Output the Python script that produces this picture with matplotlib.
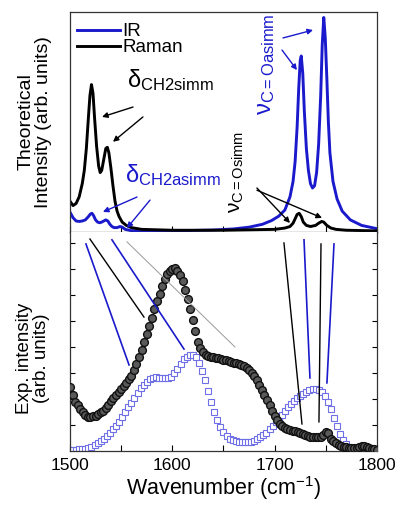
import numpy as np
import matplotlib
matplotlib.use('Agg')
import matplotlib.pyplot as plt

plt.rcParams['font.family'] = ['Liberation Sans', 'DejaVu Sans']
plt.rcParams['mathtext.fontset'] = 'custom'
plt.rcParams['mathtext.rm'] = 'Liberation Sans'
plt.rcParams['mathtext.it'] = 'Liberation Sans:italic'
plt.rcParams['mathtext.bf'] = 'Liberation Sans:bold'

# ---------------- data ----------------
# theoretical spectra (top panel)
raman_x = [1500, 1503, 1506, 1509, 1512, 1514, 1516, 1518, 1519.5, 1521, 1522.5, 1524,
           1526, 1528, 1529.5, 1531, 1533, 1535, 1536.5, 1538, 1540, 1542, 1544, 1546, 1548,
           1551, 1555, 1560, 1570, 1600, 1650, 1700, 1710, 1715, 1718, 1720, 1722, 1724, 1726,
           1728, 1731, 1735, 1740, 1743, 1746, 1748, 1751, 1755, 1760, 1770, 1800]
raman_y = [0.14, 0.12, 0.13, 0.16, 0.22, 0.28, 0.38, 0.52, 0.62, 0.67, 0.63, 0.52,
           0.39, 0.30, 0.27, 0.28, 0.33, 0.38, 0.385, 0.36, 0.29, 0.21, 0.14, 0.095, 0.07,
           0.045, 0.03, 0.02, 0.012, 0.008, 0.008, 0.012, 0.018, 0.025, 0.04, 0.06, 0.08, 0.085, 0.07,
           0.045, 0.03, 0.025, 0.03, 0.04, 0.048, 0.045, 0.03, 0.018, 0.012, 0.008, 0.005]

ir_x = [1500, 1503, 1506, 1509, 1512, 1515, 1518, 1520, 1521.5, 1523, 1525, 1527, 1529, 1531,
        1533, 1535, 1537, 1539, 1541, 1543, 1546, 1549, 1551, 1554, 1560, 1600, 1640, 1660,
        1675, 1688, 1697, 1704, 1710, 1715, 1718, 1720, 1722, 1723.5, 1725, 1726, 1727.5, 1729,
        1731, 1733, 1735, 1737, 1739, 1741, 1743, 1745, 1746.5, 1748, 1749.5, 1751, 1752.5,
        1754, 1757, 1761, 1766, 1774, 1785, 1800]
ir_y = [0.09, 0.065, 0.05, 0.048, 0.05, 0.055, 0.07, 0.082, 0.085, 0.075, 0.055, 0.045, 0.042, 0.045,
        0.05, 0.055, 0.05, 0.035, 0.025, 0.02, 0.02, 0.025, 0.022, 0.012, 0.006, 0.005, 0.009, 0.014,
        0.022, 0.035, 0.052, 0.072, 0.10, 0.16, 0.23, 0.32, 0.48, 0.65, 0.78, 0.80, 0.72, 0.55,
        0.38, 0.28, 0.22, 0.20, 0.21, 0.27, 0.40, 0.62, 0.85, 0.975, 0.88, 0.70, 0.50,
        0.36, 0.23, 0.15, 0.095, 0.055, 0.03, 0.015]

# experimental spectra (bottom panel)
exp_raman_start, exp_raman_step = 1500, 2.5
exp_raman = [2.45, 2.15, 1.9, 1.75, 1.6, 1.5, 1.4, 1.32, 1.3, 1.33, 1.35, 1.42, 1.5, 1.55, 1.65,
             1.78, 1.92, 2.05, 2.15, 2.28, 2.38, 2.5, 2.62, 2.75, 2.9, 3.1, 3.35, 3.6, 3.9, 4.2,
             4.5, 4.8, 5.1, 5.45, 5.75, 6.05, 6.35, 6.6, 6.8, 6.92, 7.0, 7.02, 6.92, 6.75, 6.55,
             6.2, 5.85, 5.45, 5.05, 4.6, 4.2, 3.95, 3.8, 3.7, 3.65, 3.62, 3.6, 3.58, 3.58, 3.55,
             3.5, 3.48, 3.45, 3.42, 3.4, 3.38, 3.35, 3.3, 3.25, 3.18, 3.1, 3.0, 2.88, 2.72, 2.55,
             2.35, 2.15, 1.95, 1.75, 1.55, 1.35, 1.2, 1.05, 0.97, 0.9, 0.85, 0.8, 0.78, 0.75, 0.72,
             0.68, 0.65, 0.62, 0.58, 0.55, 0.53, 0.52, 0.52, 0.55, 0.62, 0.72, 0.68, 0.48, 0.38, 0.3,
             0.24, 0.2, 0.17, 0.15, 0.13, 0.12, 0.12, 0.13, 0.17, 0.21, 0.2, 0.15, 0.1, 0.08, 0.06,
             0.05]

exp_ir_start, exp_ir_step = 1500, 3
exp_ir = [0.05, 0.05, 0.05, 0.06, 0.07, 0.08, 0.11, 0.17, 0.23, 0.3, 0.38, 0.48, 0.58, 0.7, 0.83,
          0.95, 1.12, 1.3, 1.5, 1.68, 1.85, 2.03, 2.22, 2.42, 2.55, 2.65, 2.75, 2.82, 2.85, 2.82,
          2.8, 2.79, 2.8, 2.86, 2.98, 3.15, 3.35, 3.52, 3.63, 3.7, 3.7, 3.6, 3.4, 3.08, 2.72, 2.3,
          1.88, 1.5, 1.18, 0.92, 0.72, 0.58, 0.48, 0.42, 0.38, 0.35, 0.34, 0.33, 0.34, 0.36, 0.4,
          0.45, 0.52, 0.6, 0.7, 0.83, 0.96, 1.1, 1.25, 1.4, 1.55, 1.68, 1.8, 1.92, 2.03, 2.12, 2.2,
          2.27, 2.33, 2.38, 2.4, 2.36, 2.27, 2.12, 1.9, 1.6, 1.28, 0.95, 0.65, 0.42, 0.26, 0.16,
          0.11, 0.08, 0.07, 0.06, 0.05, 0.05, 0.05, 0.05, 0.05]

# guide lines in the bottom panel: (x0, y0, x1, y1, colour, width)
guides = [
    (1519.5, 8.15, 1572.3, 5.15, 'black', 1.0),
    (1515.6, 7.96, 1557.7, 3.31, '#1a1acc', 1.2),
    (1541.0, 8.12, 1611.4, 3.92, '#1a1acc', 1.2),
    (1555.7, 8.04, 1661.2, 4.00, '#999999', 0.7),
    (1709.1, 8.00, 1726.7, 1.04, 'black', 1.0),
    (1728.7, 8.12, 1734.5, 2.81, '#1a1acc', 1.2),
    (1745.3, 7.96, 1743.3, 1.12, 'black', 1.0),
    (1758.0, 7.96, 1751.1, 2.62, '#1a1acc', 1.2),
]

BLUE = '#1a1acc'

fig = plt.figure(figsize=(3.99, 5.08), dpi=100)
ax1 = fig.add_axes([0.1754, 0.5433, 0.7694, 0.4331])
ax2 = fig.add_axes([0.1754, 0.1122, 0.7694, 0.4311])

# ---- top panel ----
ax1.plot(ir_x, ir_y, color=BLUE, lw=2.1, label='IR')
ax1.plot(raman_x, raman_y, color='black', lw=2.1, label='Raman')
ax1.set_xlim(1500, 1800)
ax1.set_ylim(0, 1.0)
ax1.set_xticks([1500, 1550, 1600, 1650, 1700, 1750, 1800])
ax1.set_xticklabels([])
ax1.set_yticks([])
ax1.tick_params(axis='x', direction='in', length=4, width=0.8, top=False)
leg = ax1.legend(loc='upper left', frameon=False, fontsize=13.5, handlelength=2.3,
                 handletextpad=0.1, borderaxespad=0.0, borderpad=0.0, labelspacing=-0.05,
                 bbox_to_anchor=(0.023, 0.95))

arrow = dict(arrowstyle='-|>', lw=1.0, mutation_scale=8, shrinkA=0, shrinkB=0)
ax1.text(1555.7, 0.66, r'$\mathrm{\delta_{CH2simm}}$', fontsize=17, ha='left', va='baseline')
ax1.annotate('', xy=(1531.3, 0.523), xytext=(1561.6, 0.568), arrowprops=dict(arrow, color='black'))
ax1.annotate('', xy=(1542.0, 0.41), xytext=(1571.3, 0.523), arrowprops=dict(arrow, color='black'))

ax1.text(1553.7, 0.227, r'$\mathrm{\delta_{CH2asimm}}$', fontsize=17, ha='left', va='baseline',
         color=BLUE)
ax1.annotate('', xy=(1532.2, 0.091), xytext=(1565.5, 0.159), arrowprops=dict(arrow, color=BLUE))
ax1.annotate('', xy=(1555.7, 0.018), xytext=(1578.2, 0.145), arrowprops=dict(arrow, color=BLUE))

ax1.text(1680.8, 0.53, r'$\mathrm{\nu_{C=Oasimm}}$', fontsize=17, rotation=90, ha='left',
         va='bottom', color=BLUE)
ax1.annotate('', xy=(1737.5, 0.918), xytext=(1708.2, 0.882), arrowprops=dict(arrow, color=BLUE))
ax1.annotate('', xy=(1721.8, 0.736), xytext=(1707.2, 0.827), arrowprops=dict(arrow, color=BLUE))

ax1.text(1653.4, 0.086, r'$\mathrm{\nu_{C=Osimm}}$', fontsize=15, rotation=90, ha='left',
         va='bottom', color='black')
ax1.annotate('', xy=(1715.0, 0.041), xytext=(1682.7, 0.20), arrowprops=dict(arrow, color='black'))
ax1.annotate('', xy=(1746.3, 0.064), xytext=(1682.7, 0.19), arrowprops=dict(arrow, color='black'))

# ---- bottom panel ----
xr = exp_raman_start + exp_raman_step * np.arange(len(exp_raman))
xi = exp_ir_start + exp_ir_step * np.arange(len(exp_ir))
ax2.plot(xi, exp_ir, ls='none', marker='s', ms=4.7, mfc='white', mec='#6f6fe6', mew=0.8, zorder=2)
ax2.plot(xr, exp_raman, ls='none', marker='o', ms=5.6, mfc='#5a5a5a', mec='#111111', mew=1.0, zorder=3)
for x0, y0, x1, y1, c, w in guides:
    ax2.plot([x0, x1], [y0, y1], color=c, lw=w, zorder=4)

ax2.set_xlim(1500, 1800)
ax2.set_ylim(0, 8.42)
ax2.set_xticks([1500, 1600, 1700, 1800])
ax2.set_xticks([1550, 1650, 1750], minor=True)
ax2.set_yticks(range(1, 9))
ax2.set_yticklabels([])
ax2.tick_params(axis='x', which='both', direction='in', length=4, width=0.8, labelsize=12.5, pad=5)
ax2.tick_params(axis='y', direction='in', length=3.5, width=0.8, left=True, right=True)
ax2.set_xlabel('Wavenumber (cm$^{\\mathregular{-1}}$)', fontsize=15.5, labelpad=1)

for a in (ax1, ax2):
    for s in a.spines.values():
        s.set_color('#333333')
        s.set_linewidth(0.9)
ax2.spines['top'].set_visible(False)

fig.text(0.088, 0.7598, 'Theoretical\nIntensity (arb. units)', rotation=90, ha='center',
         va='center', fontsize=14, linespacing=1.05)
fig.text(0.083, 0.295, 'Exp. intensity\n(arb. units)', rotation=90, ha='center',
         va='center', fontsize=13.5, linespacing=1.05)

fig.savefig('out.png', dpi=100)
